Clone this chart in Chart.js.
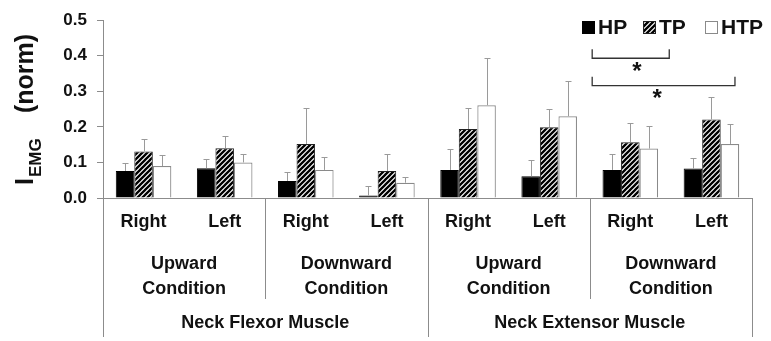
<!DOCTYPE html>
<html>
<head>
<meta charset="utf-8">
<script src="https://cdn.jsdelivr.net/npm/chart.js@4/dist/chart.umd.min.js"></script>
<style>
  html, body { margin: 0; padding: 0; background: #fff; }
  #wrap { width: 771px; height: 341px; }
</style>
</head>
<body>
<div id="wrap"><canvas id="c" width="771" height="341"></canvas></div>
<script>
// Integrated EMG (normalised) by posture, side, condition and muscle
const sides = ['Right', 'Left', 'Right', 'Left', 'Right', 'Left', 'Right', 'Left'];
const conditions = ['Upward\nCondition', 'Downward\nCondition', 'Upward\nCondition', 'Downward\nCondition'];
const muscles = ['Neck Flexor Muscle', 'Neck Extensor Muscle'];
const seriesNames = ['HP', 'TP', 'HTP'];

const hpMean  = [0.076, 0.084, 0.048, 0.007, 0.079, 0.061, 0.079, 0.083];
const hpSD    = [0.023, 0.026, 0.026, 0.026, 0.060, 0.046, 0.046, 0.029];
const tpMean  = [0.131, 0.140, 0.152, 0.076, 0.194, 0.199, 0.157, 0.221];
const tpSD    = [0.036, 0.035, 0.101, 0.049, 0.059, 0.050, 0.055, 0.063];
const htpMean = [0.090, 0.100, 0.079, 0.043, 0.261, 0.230, 0.139, 0.152];
const htpSD   = [0.031, 0.025, 0.036, 0.017, 0.134, 0.100, 0.064, 0.056];

const yTicks = [0.0, 0.1, 0.2, 0.3, 0.4, 0.5];

// significance brackets: category span, level of bar, star position
const brackets = [
  { from: 5.53, to: 6.48, level: 0.393, starAt: 6.08, starLevel: 0.365 },
  { from: 5.53, to: 7.29, level: 0.316, starAt: 6.33, starLevel: 0.29 }
];

const FONT = '"Liberation Sans", Arial, sans-serif';

function hatch(ctx) {
  const s = 5;
  const c = document.createElement('canvas');
  c.width = s; c.height = s;
  const g = c.getContext('2d');
  g.fillStyle = '#fff';
  g.fillRect(0, 0, s, s);
  g.strokeStyle = '#000';
  g.lineWidth = 2.3;
  g.beginPath();
  g.moveTo(-1, s + 1); g.lineTo(s + 1, -1);
  g.moveTo(-1, 1); g.lineTo(1, -1);
  g.moveTo(s - 1, s + 1); g.lineTo(s + 1, s - 1);
  g.stroke();
  return ctx.createPattern(c, 'repeat');
}

const canvas = document.getElementById('c');
const ctx = canvas.getContext('2d');
const hatchFill = hatch(ctx);

const GRAY = '#8c8c8c';

const decorations = {
  id: 'decorations',
  afterDatasetsDraw(chart) {
    const c = chart.ctx;
    const y = chart.scales.y;
    // error bars (upper side only)
    c.save();
    c.strokeStyle = '#9a9a9a';
    c.lineWidth = 1;
    chart.data.datasets.forEach((ds, di) => {
      const meta = chart.getDatasetMeta(di);
      meta.data.forEach((bar, i) => {
        const top = Math.round(y.getPixelForValue(ds.data[i] + ds.errors[i])) + 0.5;
        const bx = Math.round(bar.x) + 0.5;
        c.beginPath();
        c.moveTo(bx, bar.y);
        c.lineTo(bx, top);
        c.moveTo(bx - 3, top);
        c.lineTo(bx + 3, top);
        c.stroke();
      });
    });
    c.restore();
  },
  afterDraw(chart) {
    const c = chart.ctx;
    const x = chart.scales.x, y = chart.scales.y;
    const area = chart.chartArea;
    const px = v => x.getPixelForValue(v);
    c.save();

    // separators below the baseline
    c.strokeStyle = GRAY;
    c.lineWidth = 1;
    const seps = [[-0.5, 337], [1.5, 299], [3.5, 337], [5.5, 299], [7.5, 337]];
    seps.forEach(([v, bottom]) => {
      const sx = Math.round(px(v)) + 0.5;
      c.beginPath();
      c.moveTo(sx, area.bottom);
      c.lineTo(sx, bottom);
      c.stroke();
    });

    // category labels
    c.fillStyle = '#111';
    c.textAlign = 'center';
    c.textBaseline = 'middle';
    c.font = 'bold 18px ' + FONT;
    sides.forEach((s, i) => c.fillText(s, px(i), 222));
    conditions.forEach((s, g) => {
      const lines = s.split('\n');
      lines.forEach((ln, k) => c.fillText(ln, px(2 * g + 0.5), 264 + k * 25));
    });
    muscles.forEach((s, m) => c.fillText(s, px(4 * m + 1.5), 323));

    // y-axis title with subscript
    c.save();
    c.translate(33, 185);
    c.rotate(-Math.PI / 2);
    c.textAlign = 'left';
    c.textBaseline = 'alphabetic';
    c.font = 'bold 25px ' + FONT;
    c.fillText('I', 0, 0);
    let w = c.measureText('I').width;
    c.font = 'bold 17px ' + FONT;
    c.fillText('EMG', w + 1, 8);
    c.font = 'bold 25px ' + FONT;
    c.fillText('(norm)', 72, 0);
    c.restore();

    // legend
    const legendX = [582, 643, 705];
    chart.data.datasets.forEach((ds, i) => {
      const lx = legendX[i];
      c.fillStyle = ds.backgroundColor;
      c.fillRect(lx, 21, 13, 13);
      c.strokeStyle = ds.borderColor;
      c.lineWidth = 1;
      c.strokeRect(lx + 0.5, 21.5, 12, 12);
      c.fillStyle = '#111';
      c.font = 'bold 21px ' + FONT;
      c.textAlign = 'left';
      c.textBaseline = 'middle';
      c.fillText(ds.label, lx + 16, 28);
    });

    // significance brackets
    c.strokeStyle = '#333';
    c.lineWidth = 1.3;
    brackets.forEach(b => {
      const x0 = px(b.from), x1 = px(b.to);
      const yy = y.getPixelForValue(b.level);
      c.beginPath();
      c.moveTo(x0, yy - 9);
      c.lineTo(x0, yy);
      c.lineTo(x1, yy);
      c.lineTo(x1, yy - 9);
      c.stroke();
      c.fillStyle = '#111';
      c.font = 'bold 24px ' + FONT;
      c.textAlign = 'center';
      c.textBaseline = 'middle';
      c.fillText('*', px(b.starAt), y.getPixelForValue(b.starLevel) + 4);
    });
    c.restore();
  }
};

new Chart(canvas, {
  type: 'bar',
  data: {
    labels: sides,
    datasets: [
      { label: seriesNames[0], data: hpMean, errors: hpSD,
        backgroundColor: '#000', borderColor: '#000', borderWidth: 1 },
      { label: seriesNames[1], data: tpMean, errors: tpSD,
        backgroundColor: hatchFill, borderColor: '#222', borderWidth: 1 },
      { label: seriesNames[2], data: htpMean, errors: htpSD,
        backgroundColor: '#fff', borderColor: '#8a8a8a', borderWidth: 1.2 }
    ]
  },
  options: {
    responsive: false,
    animation: false,
    devicePixelRatio: 1,
    layout: { padding: { top: 17, right: 19, left: 0, bottom: 0 } },
    plugins: { legend: { display: false }, tooltip: { enabled: false } },
    datasets: { bar: { categoryPercentage: 0.685, barPercentage: 1.0 } },
    scales: {
      x: {
        grid: { display: false },
        ticks: { display: false },
        border: { display: true, color: GRAY, width: 1 },
        afterFit(s) { s.height = 143; }
      },
      y: {
        min: 0, max: 0.5,
        afterBuildTicks(s) { s.ticks = yTicks.map(v => ({ value: v })); },
        ticks: {
          padding: 10,
          color: '#111',
          font: { family: FONT, size: 17, weight: 'bold' },
          callback: v => Number(v).toFixed(1)
        },
        grid: { display: true, drawOnChartArea: false, drawTicks: true, tickLength: 6, color: GRAY },
        border: { display: true, color: GRAY, width: 1 },
        afterFit(s) { s.width = 103; }
      }
    }
  },
  plugins: [decorations]
});
</script>
</body>
</html>
